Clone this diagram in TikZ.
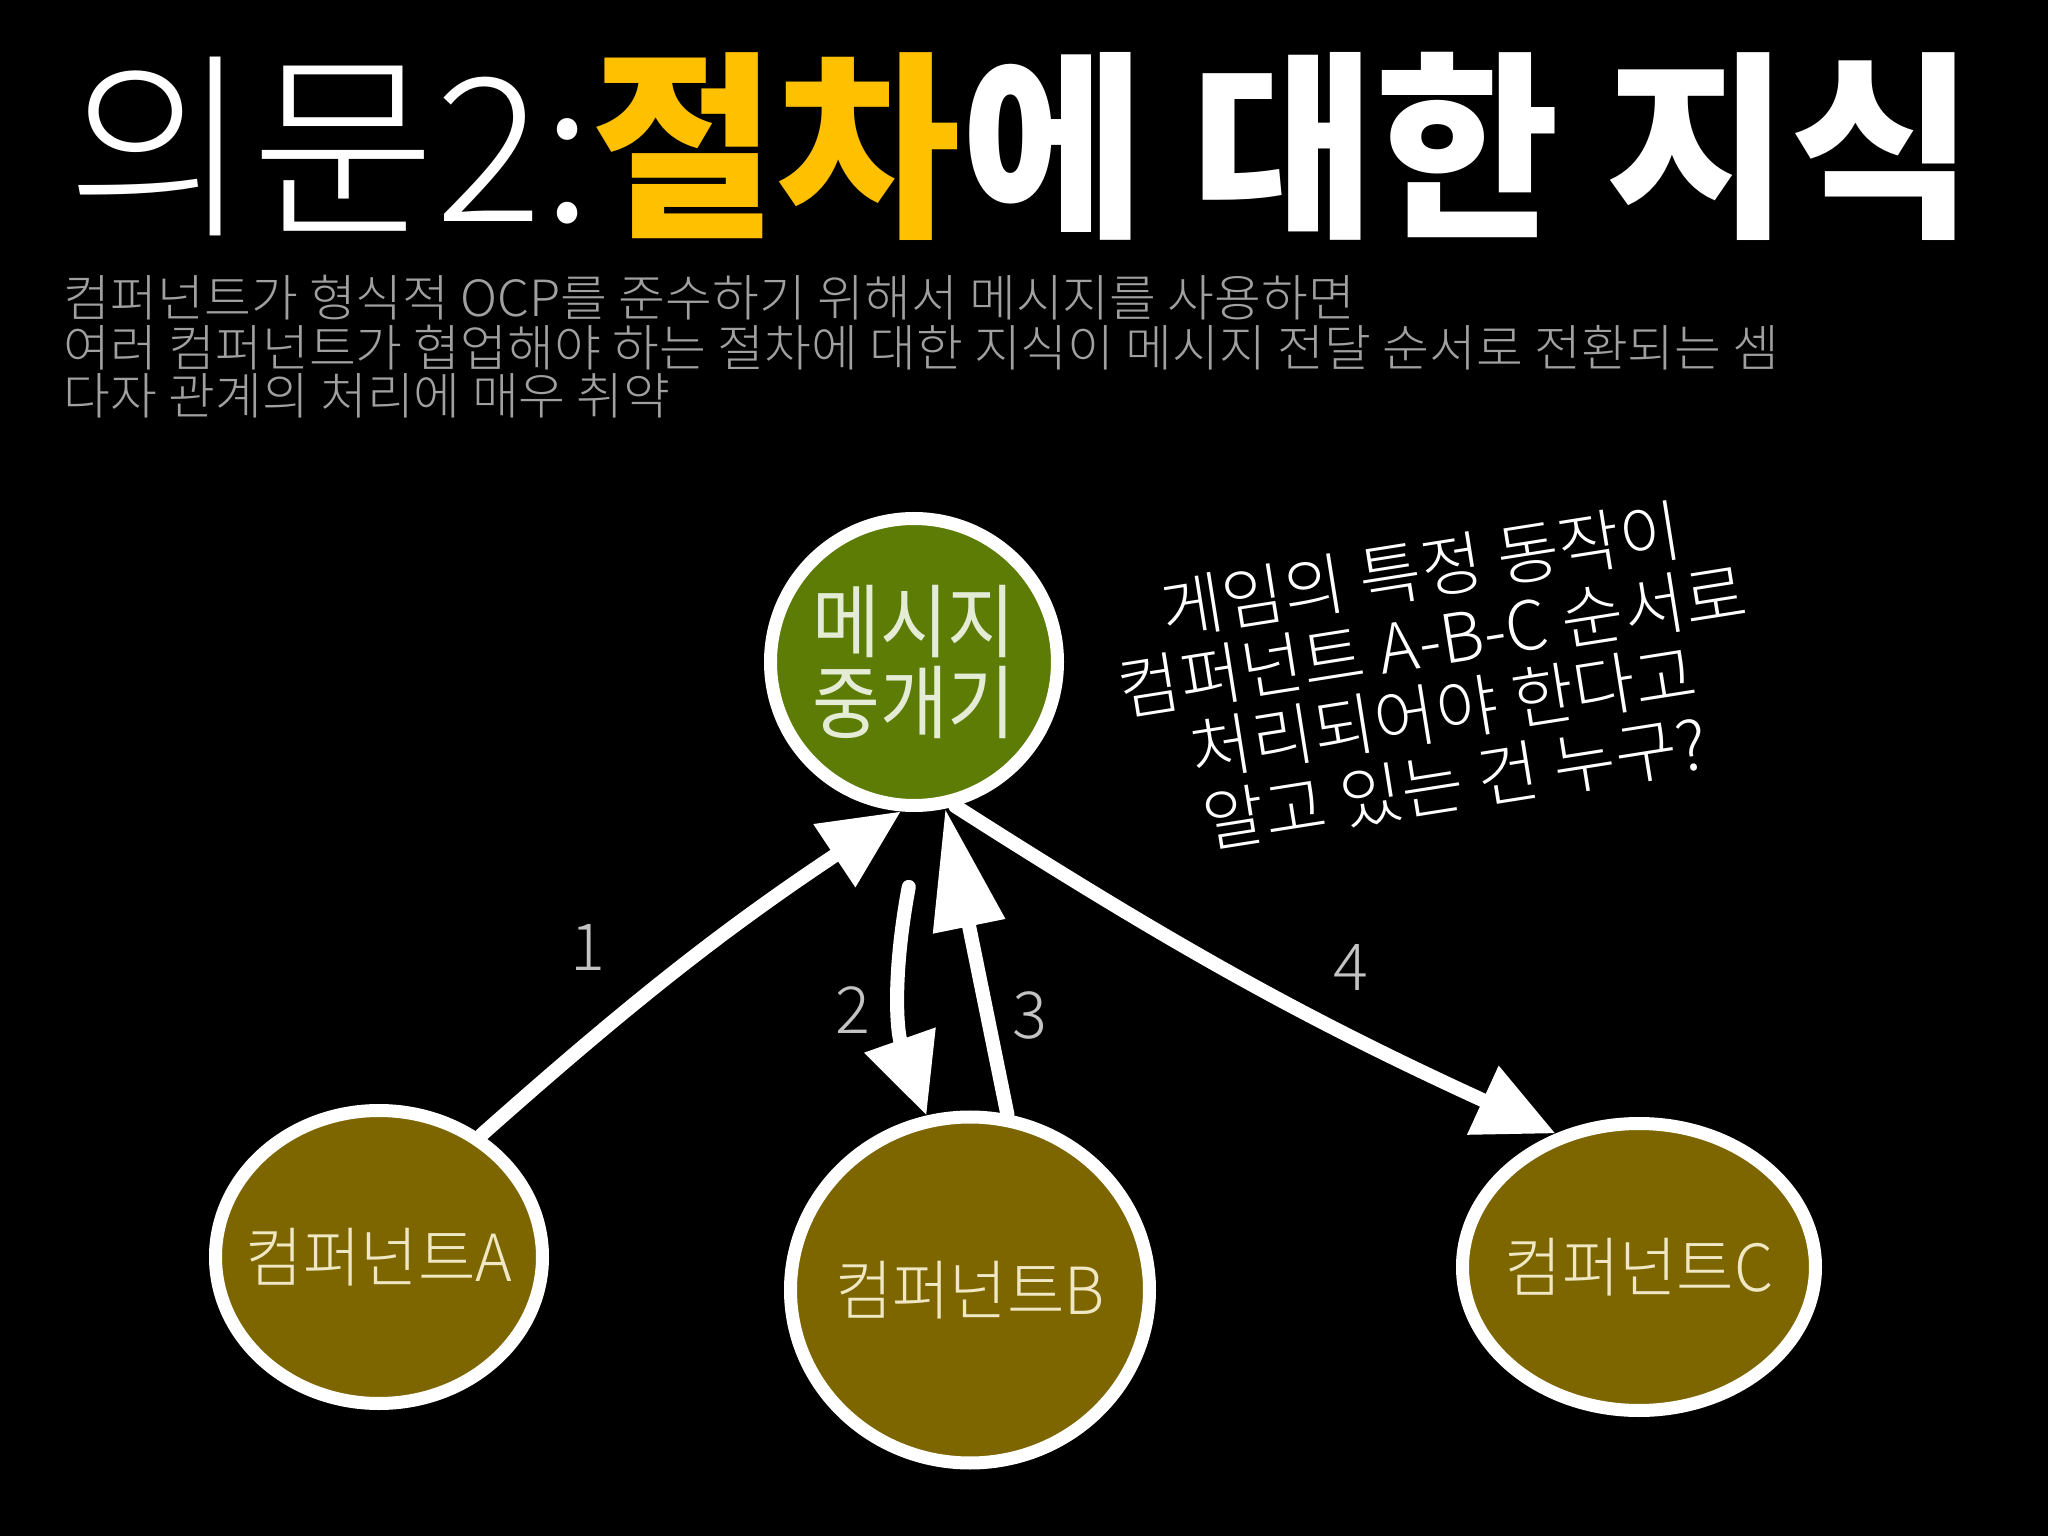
\documentclass[tikz,border=0pt]{standalone}
\usepackage{fontspec}
\usepackage{xcolor}
\usepackage{tikz}
\usetikzlibrary{positioning,shapes,arrows.meta,calc}
\setmainfont{Noto Sans CJK KR}
\IfFontExistsTF{Noto Sans CJK KR Light}{%
  \newfontfamily\krthin{Noto Sans CJK KR Light}
  \newfontfamily\krthinwide[FakeStretch=1.02]{Noto Sans CJK KR Light}
  \newfontfamily\krthinslim[FakeStretch=0.96]{Noto Sans CJK KR Light}
}{%
  \newfontfamily\krthin{Noto Sans CJK KR}
  \newfontfamily\krthinwide[FakeStretch=1.02]{Noto Sans CJK KR}
  \newfontfamily\krthinslim[FakeStretch=0.96]{Noto Sans CJK KR}
}
\newfontfamily\krnarrow[FakeStretch=0.92]{Noto Sans CJK KR}
\definecolor{titleyellow}{RGB}{255,192,0}
\definecolor{subgray}{RGB}{160,160,160}
\definecolor{relaygreen}{RGB}{92,124,6}
\definecolor{relaytext}{RGB}{228,236,214}
\definecolor{compolive}{RGB}{125,102,0}
\definecolor{comptext}{RGB}{240,232,196}
\definecolor{numgray}{RGB}{195,195,195}
\newcommand{\relayfont}{\krnarrow\fontsize{22.8}{22.8}\selectfont\lineskiplimit=-20pt}
\newcommand{\compfont}{\krthinslim\fontsize{18.5}{20}\selectfont}
\newcommand{\stepfont}{\krthin\fontsize{18.5}{20}\selectfont}
\newcommand{\notefont}{\krthin\fontsize{19.2}{20.4}\selectfont\lineskiplimit=-20pt}
\newcommand{\subtextfont}{\krthinwide\fontsize{14.2}{14}\selectfont}
\tikzstyle{relaynode}=[circle, draw=white, line width=3.7pt, fill=relaygreen, minimum size=2.87cm, inner sep=0pt, text=relaytext, align=center, font=\relayfont]
\tikzstyle{compnode}=[ellipse, draw=white, line width=3.7pt, fill=compolive, inner sep=0pt, text=comptext, font=\compfont]
\tikzstyle{msgarrow}=[-{Triangle[length=0.8cm,width=0.72cm]}, white, line width=4pt, line cap=round]
\tikzstyle{steplabel}=[text=numgray, font=\stepfont, inner sep=0pt]

\begin{document}
\begin{tikzpicture}
        \fill[black] (0,0) rectangle (20.48,-15.36);
        \useasboundingbox (0,0) rectangle (20.48,-15.36);

        % title and explanation
        \node[anchor=base west, inner sep=0pt, text=white] (title) at (0.66,-2.22)
            {\fontsize{57}{60}\selectfont\krthin 의문2:\normalfont\fontsize{57}{60}\selectfont\bfseries\textcolor{titleyellow}{절차}에 대한 지식};
        \node[anchor=base west, inner sep=0pt, text=subgray, font=\subtextfont] (sub1) at (0.63,-3.17) {컴퍼넌트가 형식적 OCP를 준수하기 위해서 메시지를 사용하면};
        \node[anchor=base west, inner sep=0pt, text=subgray, font=\subtextfont] (sub2) at (0.63,-3.67) {여러 컴퍼넌트가 협업해야 하는 절차에 대한 지식이 메시지 전달 순서로 전환되는 셈};
        \node[anchor=base west, inner sep=0pt, text=subgray, font=\subtextfont] (sub3) at (0.63,-4.15) {다자 관계의 처리에 매우 취약};

        % relay and components
        \node[relaynode] (relay) at (9.14,-6.62) {메시지\\중개기};
        \node[compnode, minimum width=3.27cm, minimum height=2.93cm] (compA) at (3.79,-12.57) {\makebox[0pt]{컴퍼넌트A}};
        \node[compnode, minimum width=3.59cm, minimum height=3.46cm] (compB) at (9.70,-12.90) {\makebox[0pt]{컴퍼넌트B}};
        \node[compnode, minimum width=3.53cm, minimum height=2.87cm] (compC) at (16.39,-12.67) {\makebox[0pt]{컴퍼넌트C}};

        \node[rotate=9, align=center, text=white, font=\notefont, inner sep=0pt] (note) at (14.38,-6.76)
            {게임의 특정 동작이\\컴퍼넌트 A-B-C 순서로\\처리되어야 한다고\\알고 있는 건 누구?};

        % message flow
        \coordinate (relayout) at ($(relay.-92)+(0,-0.75)$);
        \draw[msgarrow] (compA.50) to[bend left=4] (relay.-95);
        \draw[msgarrow] (relayout) to[bend right=15] (compB.104);
        \draw[msgarrow, -{Triangle[length=1.2cm,width=0.7cm]}] (compB.78) -- (relay.-78);
        \draw[msgarrow] (relay.-74) to[bend right=4] (compC.122);

        \node[steplabel] (num1) at (5.88,-9.47) {1};
        \node[steplabel] (num2) at (8.53,-10.10) {2};
        \node[steplabel] (num3) at (10.30,-10.15) {3};
        \node[steplabel] (num4) at (13.51,-9.67) {4};
    \end{tikzpicture}
\end{document}
